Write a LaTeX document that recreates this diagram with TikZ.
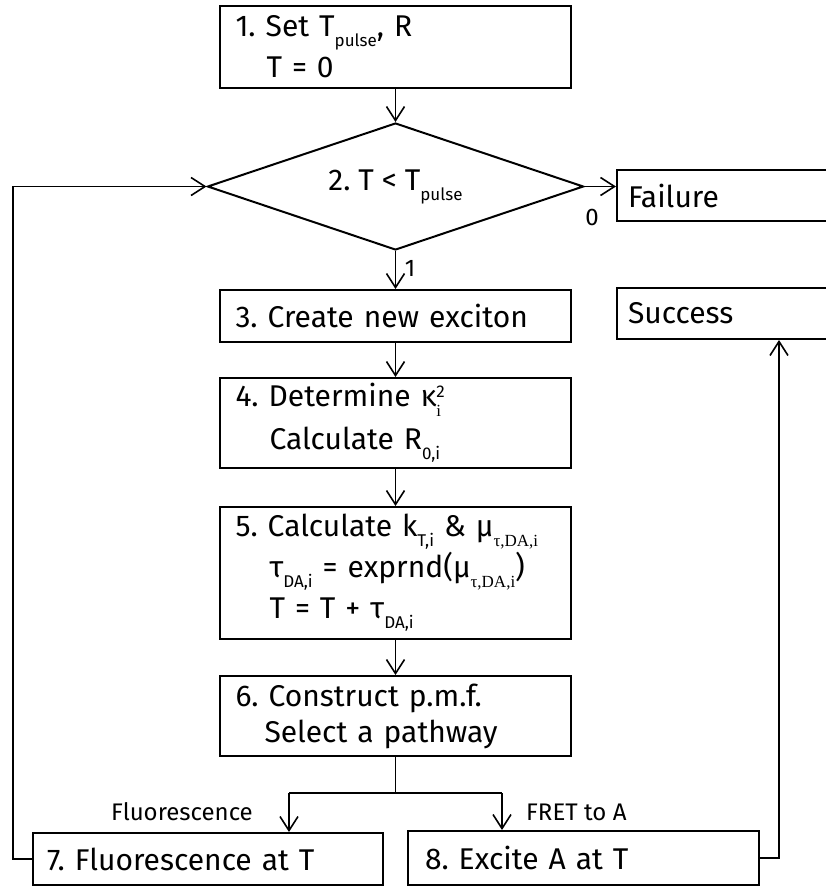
\documentclass[tikz,border=0pt]{standalone}
\usepackage{fontspec}
\setmainfont{Fira Sans}
\newfontfamily\serfont{Liberation Serif}
\usetikzlibrary{arrows.meta,shapes.geometric}
\frenchspacing
\newcommand{\lowtxt}[1]{\raisebox{-10pt}{\fontsize{17}{17}\selectfont #1}}
\newcommand{\hightxt}[1]{\raisebox{9pt}{\fontsize{17}{17}\selectfont #1}}
\tikzset{
  stepbox/.style={draw, line width=2pt, align=left, inner ysep=0pt,
    inner xsep=14pt, font=\fontsize{30}{41}\selectfont},
  endbox/.style={stepbox, inner xsep=11pt, minimum width=233pt, text width=211pt},
  lbl/.style={font=\fontsize{24}{24}\selectfont, inner sep=0pt},
  link/.style={line width=1.6pt, -{Straight Barb[length=14pt,width=18pt]}}
}
\begin{document}
\begin{tikzpicture}[x=1pt,y=-1pt]
    \useasboundingbox (0,0) rectangle (825,886);
    \node[stepbox, minimum width=351pt, text width=320pt, minimum height=82pt] (set) at (395.5,47)
        {1. Set T\lowtxt{pulse}, R\\\hspace*{31pt}T = 0};
    \node[draw, diamond, line width=2pt, aspect=2.96, minimum width=376pt, minimum height=127pt,
        inner sep=0pt, font=\fontsize{30}{41}\selectfont] (test) at (395.5,186.5) {2. T < T\lowtxt{pulse}};
    \node[endbox, minimum height=51pt] (fail) at (733.5,195.5) {Failure};
    \node[stepbox, minimum width=351pt, text width=320pt, minimum height=52pt] (create) at (395.5,316)
        {3. Create new exciton};
    \node[endbox, minimum height=51pt] (succ) at (733.5,313.5) {Success};
    \node[stepbox, minimum width=351pt, text width=320pt, minimum height=90pt] (kappa) at (395.5,423)
        {4. Determine κ\rlap{\lowtxt{\serfont i}}\hightxt{2}\\[2pt]\hspace*{34pt}Calculate R\lowtxt{0,i}};
    \node[stepbox, minimum width=351pt, text width=320pt, minimum height=132pt] (calc) at (395.5,573)
        {5. Calculate k\lowtxt{T,i} \& μ\lowtxt{\serfont τ,DA,i}\\
        \hspace*{34pt}τ\lowtxt{DA,i} = exprnd(μ\lowtxt{\serfont τ,DA,i})\\
        \hspace*{34pt}T = T + τ\lowtxt{DA,i}};
    \node[stepbox, minimum width=351pt, text width=320pt, minimum height=80pt] (pick) at (395.5,716)
        {6. Construct p.m.f.\\[-5pt]\hspace*{29pt}Select a pathway};
    \node[stepbox, minimum width=350pt, text width=322pt, minimum height=52pt] (fluo) at (208,859)
        {7. Fluorescence at T};
    \node[stepbox, inner xsep=17pt, minimum width=351pt, text width=317pt, minimum height=54pt] (fret) at (583.5,858)
        {8. Excite A at T};
    \draw[link] (set) -- (test);
    \draw[link] (test.east) -- (test.east -| fail.west);
    \node[lbl] (zero) at (592,217) {0};
    \draw[link] (test) -- (create);
    \node[lbl] (one) at (410,268) {1};
    \draw[link] (create) -- (kappa);
    \draw[link] (kappa) -- (calc);
    \draw[link] (calc) -- (pick);
    \draw[line width=1.6pt] (pick.south) -- ++(0,37) coordinate (split);
    \coordinate (fl) at (289,793);
    \coordinate (fr) at (502,793);
    \draw[line width=1.6pt] (fl) -- (fr);
    \draw[link] (fl) -- (fl |- fluo.north);
    \draw[link] (fr) -- (fr |- fret.north);
    \node[lbl, anchor=base east] (flab) at (253,820) {Fluorescence};
    \node[lbl, anchor=base west] (rlab) at (526,820) {FRET to A};
    \draw[link] (fluo.west) -- ++(-19,0) |- (test.west);
    \draw[link] (fret.east) -- ++(19,0) coordinate (ret) -- (ret |- succ.south);
\end{tikzpicture}
\end{document}
